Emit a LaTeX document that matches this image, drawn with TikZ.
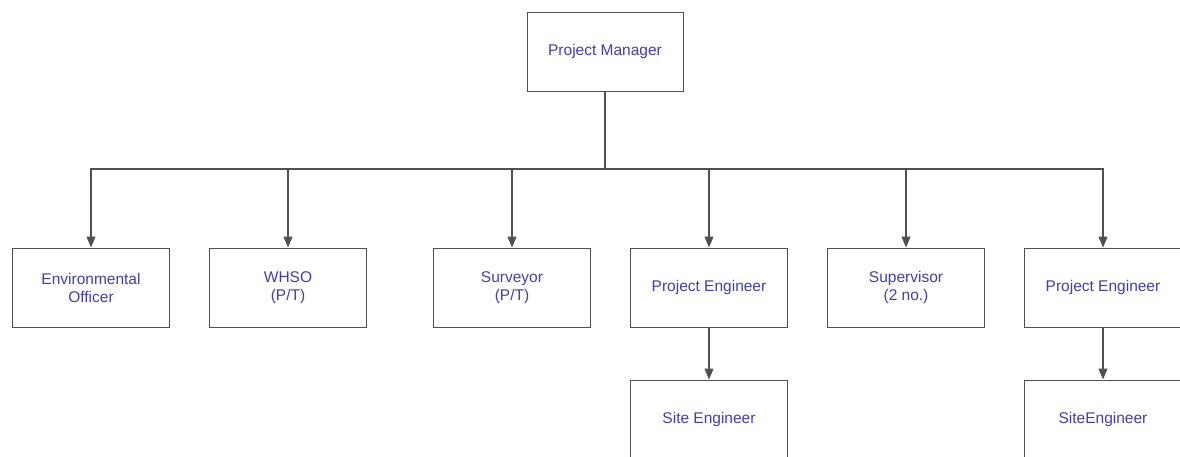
\documentclass[tikz,border=0pt]{standalone}
\usepackage{fontspec}
\setmainfont{Liberation Sans}
\usetikzlibrary{arrows.meta}
\definecolor{txt}{RGB}{70,62,165}
\definecolor{edge}{RGB}{80,80,80}
\tikzset{
  box/.style={draw=edge, line width=1pt, rectangle, minimum width=157pt, minimum height=79pt,
    inner sep=0pt, align=center, text=txt, font=\fontsize{15.5}{18}\selectfont},
  conn/.style={draw=edge, line width=1.1pt},
  arr/.style={conn, -{Triangle[length=11pt,width=9pt]}}
}
\begin{document}
\begin{tikzpicture}[x=1pt,y=-1pt]
\useasboundingbox (0,0) rectangle (1180,456);
\fill[white] (0,0) rectangle (1180,456);
\node[box, minimum width=156pt] (pm) at (605,51.5) {Project Manager};
\node[box] (env) at (91,287.5) {Environmental\\Officer};
\node[box] (whso) at (288,287.5) {WHSO\\(P/T)};
\node[box] (surv) at (512,287.5) {Surveyor\\(P/T)};
\node[box] (pe1) at (709,287.5) {Project Engineer};
\node[box] (sup) at (906,287.5) {Supervisor\\(2 no.)};
\node[box] (pe2) at (1103,287.5) {Project Engineer};
\node[box] (se1) at (709,419.5) {Site Engineer};
\node[box] (se2) at (1103,419.5) {SiteEngineer};
\coordinate (bus) at (605,169);
\draw[conn] (pm) -- (bus);
\foreach \n in {env,whso,surv,pe1,sup,pe2} {
  \draw[arr] (bus) -| (\n);
}
\draw[arr] (pe1) -- (se1);
\draw[arr] (pe2) -- (se2);
\end{tikzpicture}
\end{document}
